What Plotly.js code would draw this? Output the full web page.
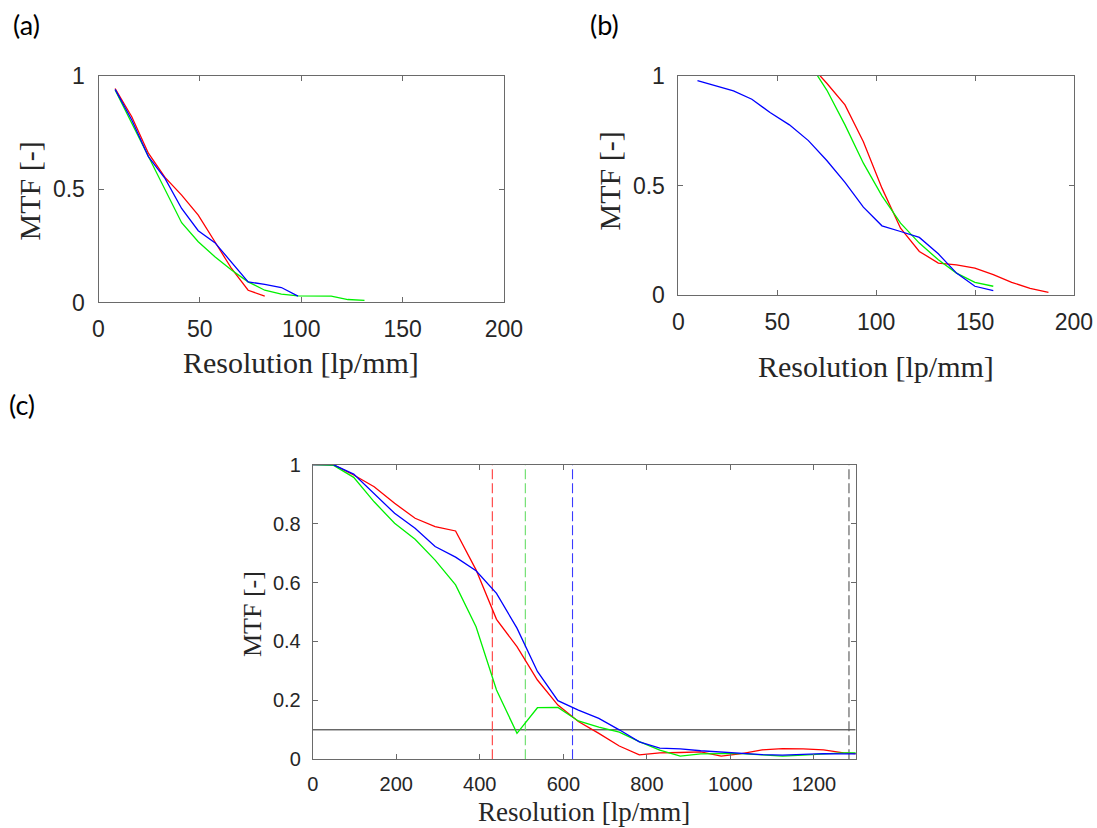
<!DOCTYPE html>
<html>
<head>
<meta charset="utf-8">
<script src="https://cdn.plot.ly/plotly-3.0.1.min.js"></script>
<style>html,body{margin:0;padding:0;background:#fff;}#chart{width:1097px;height:828px;}</style>
</head>
<body>
<div id="chart"></div>
<script>
// ---- Panel (a) data ----
const aX = [8.2,16.4,24.6,32.8,41,49.2,57.4,65.6,73.8,82,90.2,98.4,106.6,114.8,123,131.2];
const aRed = [0.945,0.820,0.659,0.552,0.474,0.386,0.268,0.150,0.054,0.028];
const aBlue = [0.941,0.806,0.644,0.548,0.415,0.317,0.264,0.180,0.091,0.080,0.066,0.028];
const aGreen = [0.938,0.791,0.644,0.496,0.352,0.268,0.202,0.143,0.091,0.054,0.037,0.029,0.029,0.028,0.013,0.009];

// ---- Panel (b) data ----
const bBlueX = [9.6,27.8,37.1,46.3,56.1,65.7,75,84.2,93.5,102.9,112.3,121.8,131.4,140.6,149.9,159.2];
const bBlue = [0.979,0.932,0.894,0.833,0.777,0.705,0.614,0.514,0.401,0.316,0.290,0.263,0.188,0.100,0.040,0.020];
const bRedX = [65.7,75,84.2,93.5,102.9,112.3,121.8,131.4,140.6,149.9,159.2,168.5,177.8,187.1];
const bRed = [1.06,0.967,0.868,0.700,0.488,0.305,0.199,0.146,0.138,0.123,0.093,0.058,0.030,0.012];
const bGreen = [1.065,0.936,0.777,0.602,0.453,0.328,0.237,0.161,0.100,0.058,0.040];

// ---- Panel (c) data ----
const cX = [0,49,98,147,196,245,293,342,391,440,489,538,587,636,685,734,782,831,880,929,978,1027,1076,1125,1174,1223,1271,1320];
const cRed = [1.0,1.0,0.965,0.925,0.869,0.818,0.790,0.775,0.643,0.475,0.382,0.269,0.184,0.128,0.088,0.045,0.015,0.022,0.023,0.025,0.011,0.019,0.032,0.036,0.035,0.032,0.022,0.017];
const cGreen = [1.0,0.998,0.957,0.874,0.801,0.747,0.676,0.592,0.450,0.235,0.088,0.175,0.176,0.130,0.109,0.092,0.060,0.031,0.011,0.018,0.019,0.019,0.015,0.011,0.014,0.018,0.022,0.022];
const cBlue = [1.0,1.0,0.968,0.903,0.835,0.784,0.722,0.686,0.640,0.563,0.445,0.298,0.199,0.167,0.139,0.100,0.059,0.038,0.035,0.029,0.025,0.019,0.016,0.014,0.016,0.019,0.018,0.018];
const cutoffX = [430, 509, 622, 1284];
const cutoffColors = ['#ff3b3b', '#66dd66', '#3b3bff', '#555555'];
const threshold = 0.1;
const cRange = [0, 1300];

const RED = '#ff0000', GREEN = '#00f000', BLUE = '#0000ff';
const LW = 1.3;

function line(x, y, color, xa, ya, extra) {
  return Object.assign({x: x, y: y, type: 'scatter', mode: 'lines',
    line: {color: color, width: LW}, xaxis: xa, yaxis: ya, hoverinfo: 'skip'}, extra || {});
}

const traces = [
  line(aX.slice(0, aRed.length), aRed, RED, 'x', 'y'),
  line(aX.slice(0, aGreen.length), aGreen, GREEN, 'x', 'y'),
  line(aX.slice(0, aBlue.length), aBlue, BLUE, 'x', 'y'),

  line(bRedX, bRed, RED, 'x2', 'y2'),
  line(bRedX.slice(0, bGreen.length), bGreen, GREEN, 'x2', 'y2'),
  line(bBlueX, bBlue, BLUE, 'x2', 'y2'),

  line(cRange, [threshold, threshold], '#222222', 'x3', 'y3', {line: {color: '#222222', width: 1}}),
];
cutoffX.forEach((cx, i) => {
  traces.push(line([cx, cx], [0, 1], cutoffColors[i], 'x3', 'y3',
    {line: {color: cutoffColors[i], width: 1.1, dash: '10px,4px'}}));
});
traces.push(line(cX, cRed, RED, 'x3', 'y3'));
traces.push(line(cX, cGreen, GREEN, 'x3', 'y3'));
traces.push(line(cX, cBlue, BLUE, 'x3', 'y3'));

const AXC = '#6a6a6a';
const tickFontAB = {family: 'Liberation Sans, Arial, sans-serif', size: 23, color: '#262626'};
const tickFontC = {family: 'Liberation Sans, Arial, sans-serif', size: 20, color: '#262626'};
function ax(extra, font) {
  return Object.assign({showline: true, mirror: 'ticks', ticks: 'inside', ticklen: 5,
    linecolor: AXC, tickcolor: AXC, linewidth: 1, showgrid: false, zeroline: false,
    tickfont: font, fixedrange: true}, extra);
}

const serif = 'Liberation Serif, Times New Roman, serif';
const panelFont = {family: 'Lato, Open Sans, sans-serif', size: 27, color: '#000'};
const titleAB = {family: serif, size: 30, color: '#262626'};
const titleC = {family: serif, size: 27, color: '#262626'};

const layout = {
  width: 1097, height: 828,
  margin: {l: 0, r: 0, t: 0, b: 0},
  paper_bgcolor: '#fff', plot_bgcolor: '#fff',
  showlegend: false, hovermode: false,
  xaxis: ax({domain: [0.0898, 0.4594], anchor: 'y', range: [0, 200], tick0: 0, dtick: 50, ticklabelstandoff: 6}, tickFontAB),
  yaxis: ax({domain: [0.6347, 0.9082], anchor: 'x', range: [0, 1], tick0: 0, dtick: 0.5, ticklabelstandoff: 8}, tickFontAB),
  xaxis2: ax({domain: [0.6185, 0.9790], anchor: 'y2', range: [0, 200], tick0: 0, dtick: 50, ticklabelstandoff: 6}, tickFontAB),
  yaxis2: ax({domain: [0.6437, 0.9082], anchor: 'x2', range: [0, 1], tick0: 0, dtick: 0.5, ticklabelstandoff: 8}, tickFontAB),
  xaxis3: ax({domain: [0.2851, 0.7800], anchor: 'y3', range: cRange, tick0: 0, dtick: 200, ticklabelstandoff: 7}, tickFontC),
  yaxis3: ax({domain: [0.0830, 0.4388], anchor: 'x3', range: [0, 1], tick0: 0, dtick: 0.2, ticklabelstandoff: 7}, tickFontC),
  annotations: [
    {text: '(a)', x: 0.0246, y: 0.971, xref: 'paper', yref: 'paper', showarrow: false, xanchor: 'center', yanchor: 'middle', font: panelFont},
    {text: '(b)', x: 0.5515, y: 0.971, xref: 'paper', yref: 'paper', showarrow: false, xanchor: 'center', yanchor: 'middle', font: panelFont},
    {text: '(c)', x: 0.0201, y: 0.5109, xref: 'paper', yref: 'paper', showarrow: false, xanchor: 'center', yanchor: 'middle', font: panelFont},

    {text: 'Resolution [lp/mm]', x: 0.2744, y: 0.5628, xref: 'paper', yref: 'paper', showarrow: false, xanchor: 'center', yanchor: 'middle', font: titleAB},
    {text: 'MTF [-]', x: 0.0269, y: 0.7693, xref: 'paper', yref: 'paper', showarrow: false, textangle: -90, xanchor: 'center', yanchor: 'middle', font: titleAB},

    {text: 'Resolution [lp/mm]', x: 0.7986, y: 0.5568, xref: 'paper', yref: 'paper', showarrow: false, xanchor: 'center', yanchor: 'middle', font: titleAB},
    {text: 'MTF [-]', x: 0.5547, y: 0.7814, xref: 'paper', yref: 'paper', showarrow: false, textangle: -90, xanchor: 'center', yanchor: 'middle', font: titleAB},

    {text: 'Resolution [lp/mm]', x: 0.5324, y: 0.0193, xref: 'paper', yref: 'paper', showarrow: false, xanchor: 'center', yanchor: 'middle', font: titleC},
    {text: 'MTF [-]', x: 0.2302, y: 0.2578, xref: 'paper', yref: 'paper', showarrow: false, textangle: -90, xanchor: 'center', yanchor: 'middle', font: {family: serif, size: 26, color: '#262626'}}
  ]
};

Plotly.newPlot('chart', traces, layout, {staticPlot: true, displayModeBar: false});
</script>
</body>
</html>
